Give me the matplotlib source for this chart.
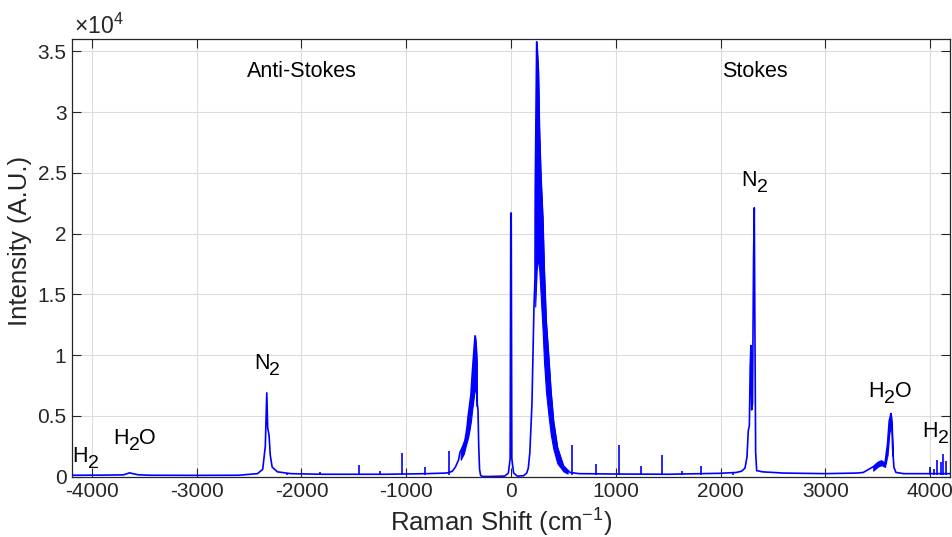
import matplotlib
matplotlib.use("Agg")
import matplotlib.pyplot as plt
from matplotlib.transforms import offset_copy

plt.rcParams['font.family'] = ['Liberation Sans', 'DejaVu Sans']
plt.rcParams['mathtext.fontset'] = 'custom'
plt.rcParams['mathtext.rm'] = 'Liberation Sans'
plt.rcParams['mathtext.it'] = 'Liberation Sans:italic'
plt.rcParams['mathtext.bf'] = 'Liberation Sans:bold'
plt.rcParams['mathtext.default'] = 'regular'

# ---------------- data ----------------
shift = [-4190, -3900, -3700, -3670, -3640, -3610, -3560, -3450, -3000, -2600,
         -2420, -2370, -2345, -2331, -2322, -2309, -2298, -2280, -2230, -2100,
         -1800, -1200, -800, -620, -590, -560, -530, -500, -487, -460,
         -439, -420, -410, -395, -382, -372, -363, -352, -343, -334,
         -327, -322, -315, -308, -300, -290, -270, -200, -60, -25,
         -8, -2, 2, 8, 25, 60, 120, 150, 165, 180,
         200, 219, 229, 231, 245, 260, 270, 283, 302, 315,
         334, 356, 379, 404, 442, 499, 563, 650, 1000, 1500,
         2000, 2150, 2200, 2233, 2252, 2265, 2275, 2283, 2290, 2297,
         2305, 2315, 2322, 2328, 2335, 2345, 2400, 2600, 3000, 3300,
         3362, 3457, 3505, 3537, 3569, 3594, 3610, 3619, 3626, 3636,
         3642, 3655, 3674, 3750, 4190]
intensity = [120, 130, 150, 230, 320, 250, 160, 120, 110, 120,
             250, 600, 2500, 6900, 4000, 3400, 1800, 800, 400, 250,
             200, 200, 250, 300, 350, 450, 800, 1400, 2000, 2500,
             3000, 4000, 4900, 5900, 6800, 8200, 9300, 10600, 11600, 10800,
             9500, 6000, 5500, 2500, 600, 100, 20, 20, 50, 300,
             1500, 21700, 21700, 1500, 300, 50, 80, 300, 700, 2000,
             6000, 13900, 16400, 23300, 35800, 33300, 28500, 24900, 21300, 17200,
             12800, 10100, 7100, 4600, 2400, 900, 350, 250, 220, 200,
             280, 350, 450, 700, 1600, 3800, 4200, 9000, 10800, 5500,
             6000, 18000, 22130, 12000, 2000, 500, 400, 300, 250, 300,
             350, 820, 1180, 1300, 1070, 2700, 4600, 4900, 5200, 4300,
             2400, 770, 350, 250, 250]

# dense rotational bands: lower / upper envelopes
stokes_band_x = [231, 245, 260, 270, 283, 302, 315, 334, 356, 379, 404, 442, 499, 540]
stokes_band_lo = [14000, 17000, 18000, 17000, 15000, 12000, 9500, 7000, 5200, 3500, 2300, 1100, 450, 250]
stokes_band_hi = [23300, 35800, 33300, 28500, 24900, 21300, 17200, 12800, 10100, 7100, 4600, 2400, 900, 500]

astokes_band_x = [-480, -450, -430, -410, -395, -382, -372, -363, -352, -343, -334, -327]
astokes_band_lo = [1400, 1900, 2600, 3200, 3900, 4600, 5400, 6000, 6800, 7400, 6800, 5800]
astokes_band_hi = [2200, 2800, 3500, 4900, 5900, 6800, 8200, 9300, 10600, 11600, 10800, 9500]

h2o_band_x = [3457, 3505, 3537, 3569, 3594, 3610, 3619, 3626, 3636, 3642]
h2o_band_lo = [500, 850, 950, 800, 1800, 3500, 3900, 4300, 3400, 1700]
h2o_band_hi = [820, 1180, 1300, 1070, 2700, 4600, 4900, 5200, 4300, 2400]

# narrow spikes (position, height)
spike_x = [-2140, -1823, -1641, -1450, -1250, -1040, -821, -592,
           585, 808, 1031, 1240, 1374, 1444, 1635, 1810, 2118,
           3998, 4036, 4068, 4100, 4125, 4151]
spike_h = [300, 350, 250, 1000, 500, 1950, 800, 2100,
           2600, 1050, 2600, 850, 250, 1800, 450, 900, 350,
           770, 650, 1380, 1180, 1870, 1300]

x_ticks = [-4000, -3000, -2000, -1000, 0, 1000, 2000, 3000, 4000]
x_tick_labels = ['-4000', '-3000', '-2000', '-1000', '0', '1000', '2000', '3000', '4000']
y_ticks = [0, 5000, 10000, 15000, 20000, 25000, 30000, 35000]
y_tick_labels = ['0', '0.5', '1', '1.5', '2', '2.5', '3', '3.5']

# annotations: list of (text, is_subscript) pieces
annot_parts = [[('Anti-Stokes', False)], [('Stokes', False)],
               [('N', False), ('2', True)], [('N', False), ('2', True)],
               [('H', False), ('2', True), ('O', False)], [('H', False), ('2', True), ('O', False)],
               [('H', False), ('2', True)], [('H', False), ('2', True)]]
annot_x = [-1994, 2328, -2328, 2328, -3593, 3617, -4060, 4055]
annot_y = [33340, 33340, 9340, 24380, 3150, 6980, 1640, 3700]

# ---------------- figure ----------------
W, H = 953, 537
fig = plt.figure(figsize=(W / 100, H / 100), dpi=100)
ax = fig.add_axes([72 / W, 1 - 476.7 / H, (950 - 72) / W, (476.7 - 39.3) / H])

blue = (0, 0, 1)
ax.plot(shift, intensity, color=blue, lw=1.2, zorder=3)
ax.fill_between(stokes_band_x, stokes_band_lo, stokes_band_hi, color=blue, lw=0.8, zorder=3)
ax.fill_between(astokes_band_x, astokes_band_lo, astokes_band_hi, color=blue, lw=0.8, zorder=3)
ax.fill_between(h2o_band_x, h2o_band_lo, h2o_band_hi, color=blue, lw=0.8, zorder=3)
ax.vlines(spike_x, 150, spike_h, color=blue, lw=1.2, zorder=3)

ax.set_xlim(-4190, 4190)
ax.set_ylim(0, 36000)
ax.set_xticks(x_ticks)
ax.set_xticklabels(x_tick_labels)
ax.set_yticks(y_ticks)
ax.set_yticklabels(y_tick_labels)

dark = '#262626'
ax.tick_params(direction='in', length=6.5, width=0.8, colors=dark, labelsize=15,
               top=True, right=True, pad=4)
for s in ax.spines.values():
    s.set_color(dark)
    s.set_linewidth(0.9)
ax.grid(True, color='#dcdcdc', lw=0.8, zorder=0)
ax.set_axisbelow(True)

ax.set_xlabel('Raman Shift (cm$^{-1}$)', fontsize=18.5, color=dark)
ax.set_ylabel('Intensity (A.U.)', fontsize=18.5, color=dark)
ax.xaxis.set_label_coords(0.489, -0.068)
ax.yaxis.set_label_coords(-0.046, 0.54)

fig.text(74 / W, 1 - 26 / H, r'$\times$10$^4$', fontsize=16.5, color=dark,
         ha='left', va='center')

# composite labels with MATLAB-like large subscripts
renderer = fig.canvas.get_renderer()
FS, SUB_FS, SUB_DROP = 15.5, 14, 5.0
for parts, x, y in zip(annot_parts, annot_x, annot_y):
    # measure total width
    widths = []
    for s, sub in parts:
        t = ax.text(0, 0, s, fontsize=SUB_FS if sub else FS)
        widths.append(t.get_window_extent(renderer).width * 72 / fig.dpi)
        t.remove()
    total = sum(widths)
    cur = -total / 2
    for (s, sub), w in zip(parts, widths):
        tr = offset_copy(ax.transData, fig=fig, x=cur, y=-SUB_DROP if sub else 0, units='points')
        ax.text(x, y, s, fontsize=SUB_FS if sub else FS, color='black', ha='left',
                va='center', transform=tr, zorder=4)
        cur += w

fig.savefig('out.png', dpi=100)
